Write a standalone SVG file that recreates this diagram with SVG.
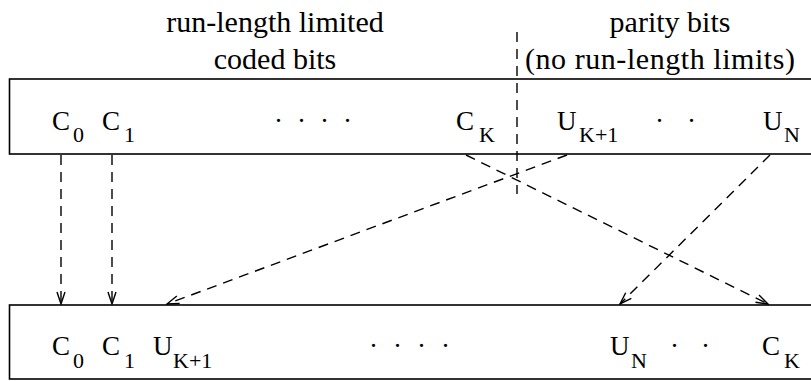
<svg xmlns="http://www.w3.org/2000/svg" width="811" height="381" viewBox="0 0 811 381">
<style>
text{font-family:'Liberation Serif','Times New Roman','DejaVu Serif',serif;fill:#000}
.t{font-size:30px;text-anchor:middle}
.l{font-size:27px}
.s{font-size:22px}
.box{fill:#fff;stroke:#000;stroke-width:1.6}
.c{fill:none;stroke:#000;stroke-width:1.4;stroke-dasharray:10 7}
</style>
<defs>
<marker id="a" viewBox="0 0 14 10" refX="13" refY="5" markerWidth="14" markerHeight="10" markerUnits="userSpaceOnUse" orient="auto">
<path d="M1,1 L13,5 L1,9" fill="none" stroke="#000" stroke-width="1.4"/>
</marker>
</defs>
<g id="labels">
<text class="t" x="275" y="32">run-length limited</text>
<text class="t" x="275" y="69">coded bits</text>
<text class="t" x="670" y="32">parity bits</text>
<text class="t" x="660" y="69" textLength="270" lengthAdjust="spacing">(no run-length limits)</text>
</g>
<g id="top-block">
<rect class="box" x="9.5" y="79" width="820" height="75"/>
<text class="l" x="52" y="130">C<tspan class="s" x="73" y="142">0</tspan></text>
<text class="l" x="102" y="130">C<tspan class="s" x="124" y="142">1</tspan></text>
<text class="l" x="274 297 320 343" y="130">····</text>
<text class="l" x="456" y="130">C<tspan class="s" x="479" y="142">K</tspan></text>
<text class="l" x="557" y="130">U<tspan class="s" x="579" y="142">K+1</tspan></text>
<text class="l" x="655 687" y="130">··</text>
<text class="l" x="763" y="130">U<tspan class="s" x="784" y="142">N</tspan></text>
</g>
<g id="bottom-block">
<rect class="box" x="9.5" y="305" width="820" height="74"/>
<text class="l" x="52" y="355">C<tspan class="s" x="73" y="368">0</tspan></text>
<text class="l" x="102" y="355">C<tspan class="s" x="124" y="368">1</tspan></text>
<text class="l" x="153" y="355">U<tspan class="s" x="173" y="368">K+1</tspan></text>
<text class="l" x="369 393 417 441" y="355">····</text>
<text class="l" x="610" y="355">U<tspan class="s" x="631" y="368">N</tspan></text>
<text class="l" x="670 701" y="355">··</text>
<text class="l" x="762" y="355">C<tspan class="s" x="784" y="368">K</tspan></text>
</g>
<g id="connectors">
<line class="c" x1="517" y1="32" x2="517" y2="194"/>
<line class="c" x1="61" y1="155" x2="61" y2="304" marker-end="url(#a)"/>
<line class="c" x1="112" y1="155" x2="112" y2="304" marker-end="url(#a)"/>
<line class="c" x1="466" y1="155" x2="768" y2="304" marker-end="url(#a)"/>
<line class="c" x1="567" y1="155" x2="167" y2="304" marker-end="url(#a)"/>
<line class="c" x1="770" y1="155" x2="620" y2="304" marker-end="url(#a)"/>
</g>
</svg>
